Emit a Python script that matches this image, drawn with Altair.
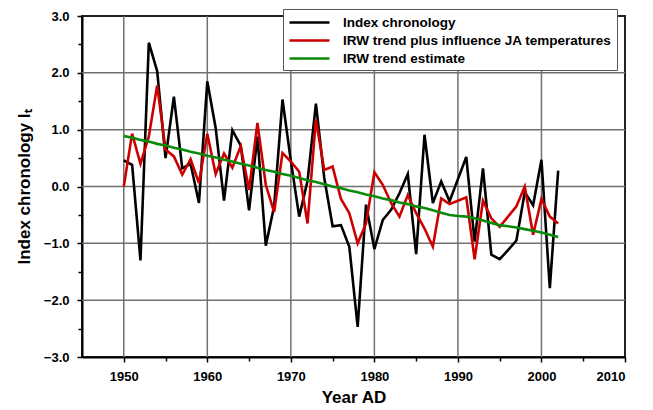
import altair as alt
import pandas as pd

years = list(range(1950, 2003))

index_chronology = [
    0.46, 0.38, -1.30, 2.53, 2.03, 0.50, 1.58, 0.32, 0.40, -0.29,
    1.85, 1.03, -0.25, 0.99, 0.72, -0.42, 0.88, -1.04, -0.35, 1.53,
    0.45, -0.53, 0.10, 1.46, 0.15, -0.70, -0.68, -1.06, -2.47, -0.32,
    -1.10, -0.59, -0.41, -0.12, 0.22, -1.19, 0.91, -0.29, 0.09, -0.26,
    0.13, 0.52, -0.97, 0.32, -1.20, -1.28, -1.12, -0.95, -0.10, -0.33,
    0.47, -1.79, 0.28,
]

irw_plus_ja = [
    0.00, 0.93, 0.40, 0.88, 1.78, 0.65, 0.53, 0.21, 0.48, 0.06,
    0.93, 0.22, 0.58, 0.33, 0.71, -0.06, 1.12, 0.03, -0.45, 0.59,
    0.44, 0.26, -0.65, 1.18, 0.29, 0.35, -0.22, -0.47, -1.00, -0.65,
    0.25, 0.03, -0.29, -0.53, -0.15, -0.47, -0.74, -1.06, -0.21, -0.31,
    -0.25, -0.19, -1.28, -0.25, -0.56, -0.71, -0.53, -0.35, 0.00, -0.85,
    -0.22, -0.53, -0.65,
]

irw_trend = [
    0.89, 0.86, 0.82, 0.79, 0.75, 0.72, 0.68, 0.65, 0.61, 0.58,
    0.54, 0.51, 0.47, 0.44, 0.40, 0.37, 0.33, 0.29, 0.26, 0.22,
    0.19, 0.15, 0.11, 0.08, 0.04, 0.00, -0.03, -0.07, -0.10, -0.14,
    -0.17, -0.21, -0.24, -0.28, -0.31, -0.35, -0.38, -0.42, -0.46, -0.50,
    -0.52, -0.53, -0.56, -0.60, -0.64, -0.68, -0.70, -0.72, -0.75, -0.78,
    -0.81, -0.85, -0.89,
]

series_names = [
    "Index chronology",
    "IRW trend plus influence JA temperatures",
    "IRW trend estimate",
]
series_colors = ["#000000", "#cc0000", "#0a8a0a"]
series_widths = [2.6, 2.6, 4.0]

x_ticks = [1950, 1955, 1960, 1965, 1970, 1975, 1980, 1985, 1990, 1995, 2000, 2005, 2010]
y_ticks = [-3, -2.5, -2, -1.5, -1, -0.5, 0, 0.5, 1, 1.5, 2, 2.5, 3]
x_grid = [1950, 1960, 1970, 1980, 1990, 2000]
y_grid = [-2, -1, 0, 1, 2]

rows = []
for name, vals in zip(series_names, [index_chronology, irw_plus_ja, irw_trend]):
    for yr, v in zip(years, vals):
        rows.append({"year": yr, "value": v, "series": name})
df = pd.DataFrame(rows)
gx = pd.DataFrame({"year": x_grid})
gy = pd.DataFrame({"value": y_grid})

FONT = "Liberation Sans"
W, H = 543, 341

x_minor = "datum.value % 10 !== 0"
y_minor = "datum.value % 1 !== 0"

x_axis = alt.Axis(
    values=x_ticks, format="d", grid=False, orient="bottom",
    labelExpr="datum.value % 10 === 0 ? datum.label : ''",
    labelOverlap=False, labelPadding=8, titlePadding=6,
    tickSize={"condition": {"test": x_minor, "value": 4}, "value": 5},
)
y_axis = alt.Axis(
    values=y_ticks, format=".1f", grid=False, orient="left",
    labelExpr="datum.value % 1 === 0 ? datum.label : ''",
    labelOverlap=False, labelPadding=8, titlePadding=10,
    tickSize={"condition": {"test": y_minor, "value": 4}, "value": 5},
)
xs = alt.Scale(domain=[1945, 2010], nice=False, zero=False)
ys = alt.Scale(domain=[-3, 3], nice=False)

grid_x = alt.Chart(gx).mark_rule(color="#707070", strokeWidth=1.5).encode(
    x=alt.X("year:Q", scale=xs, title="Year AD", axis=x_axis),
    y=alt.value(0),
    y2=alt.value(H),
)
grid_y = alt.Chart(gy).mark_rule(color="#707070", strokeWidth=1.5).encode(
    y=alt.Y("value:Q", scale=ys, title="Index chronology Iₜ", axis=y_axis),
    x=alt.value(0),
    x2=alt.value(W),
)

lines = alt.Chart(df).mark_line(strokeJoin="miter", strokeCap="butt").encode(
    x=alt.X("year:Q", scale=xs, title="Year AD", axis=x_axis),
    y=alt.Y("value:Q", scale=ys, title="Index chronology Iₜ", axis=y_axis),
    color=alt.Color("series:N", sort=series_names,
                    scale=alt.Scale(domain=series_names, range=series_colors),
                    legend=alt.Legend(title=None, orient="none", legendX=201, legendY=-7,
                                      symbolType="M-2.857,0H2.857", symbolSize=196,
                                      symbolOffset=13,
                                      labelFont=FONT, labelFontSize=13.5,
                                      labelFontWeight="bold", labelColor="#000",
                                      labelOffset=25, rowPadding=3, padding=5,
                                      fillColor="white", strokeColor="#555",
                                      labelLimit=400)),
    strokeWidth=alt.StrokeWidth("series:N", sort=series_names,
                                scale=alt.Scale(domain=series_names, range=series_widths),
                                legend=None),
    order=alt.Order("year:Q"),
    detail="series:N",
)

chart = alt.layer(grid_x, grid_y, lines).properties(
    width=W, height=H,
    autosize=alt.AutoSizeParams(type="none"),
    padding={"left": 74, "top": 8, "right": 20, "bottom": 50},
).configure_view(
    stroke="#222", strokeWidth=2,
).configure_axis(
    labelFont=FONT, labelFontSize=13, labelFontWeight="bold", labelColor="#000",
    titleFont=FONT, titleFontSize=17, titleFontWeight="bold", titleColor="#000",
    tickColor="#000", tickWidth=1.5, domainColor="#000", domainWidth=2,
)

chart.save("out.html", embed_options={"renderer": "svg", "actions": False})
